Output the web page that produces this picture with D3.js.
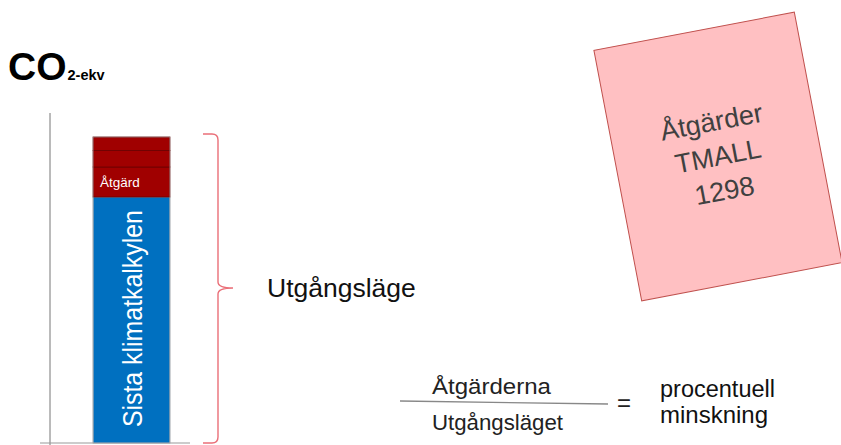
<!DOCTYPE html>
<html>
<head>
<meta charset="utf-8">
<script src="https://cdn.jsdelivr.net/npm/d3@7"></script>
<style>
  body { margin: 0; background: #fff; }
  svg { display: block; font-family: "Liberation Sans", Arial, sans-serif; }
</style>
</head>
<body>
<script>
// Data
const categories = ["Utgångsläge"];
const segmentNames = ["Sista klimatkalkylen", "Åtgärd", "", ""];
const segmentValues = [82, 10, 5.5, 4.5];
const segmentColors = ["#0070c0", "#a00000", "#a00000", "#a00000"];
const boxLines = ["Åtgärder", "TMALL", "1298"];

const w = 841;
const h = 445;

const svg = d3.select("body")
  .append("svg")
  .attr("width", w)
  .attr("height", h);

// Scales
const xScale = d3.scaleBand()
  .domain(categories)
  .range([50, 213])
  .paddingInner(0)
  .paddingOuter(0.56);

const yScale = d3.scaleLinear()
  .domain([0, 110])
  .range([443, 113]);

// stacked segments
let acc = 0;
const stacked = segmentValues.map((v, i) => {
  const d = { name: segmentNames[i], y0: acc, y1: acc + v, color: segmentColors[i] };
  acc += v;
  return d;
});
const total = acc;

// Axis lines
svg.append("line")
  .attr("x1", 50).attr("x2", 50)
  .attr("y1", yScale(110)).attr("y2", yScale(-0.8))
  .attr("stroke", "#777").attr("stroke-width", 1);

svg.append("line")
  .attr("x1", 40).attr("x2", 190)
  .attr("y1", yScale(0)).attr("y2", yScale(0))
  .attr("stroke", "#999").attr("stroke-width", 1.2);

// Bars
const bx = xScale(categories[0]);
const bw = xScale.bandwidth();

svg.selectAll("rect.seg")
  .data(stacked)
  .enter()
  .append("rect")
  .attr("class", "seg")
  .attr("x", bx)
  .attr("y", d => yScale(d.y1))
  .attr("width", bw)
  .attr("height", d => yScale(d.y0) - yScale(d.y1))
  .attr("fill", d => d.color)
  .attr("stroke", (d, i) => i === 0 ? "#9aa4ad" : "#6a0000")
  .attr("stroke-width", 0.8);

// outer thin gray edge
svg.append("rect")
  .attr("x", bx).attr("y", yScale(total))
  .attr("width", bw).attr("height", yScale(0) - yScale(total))
  .attr("fill", "none").attr("stroke", "#aaa").attr("stroke-width", 0.6);

// Segment labels
const base = stacked[0];
svg.append("text")
  .attr("transform", "translate(" + (bx + bw / 2 + 10) + "," + yScale(base.y0 + 5.3) + ") rotate(-90)")
  .attr("fill", "#fff")
  .attr("font-size", 27)
  .attr("textLength", 217)
  .attr("lengthAdjust", "spacingAndGlyphs")
  .text(base.name);

const atg = stacked[1];
svg.append("text")
  .attr("x", bx + 7)
  .attr("y", (yScale(atg.y0) + yScale(atg.y1)) / 2 + 5)
  .attr("fill", "#fff")
  .attr("font-size", 13.5)
  .text(atg.name);

// CO2-ekv title
const title = svg.append("text")
  .attr("x", 8).attr("y", 80)
  .attr("font-weight", "bold")
  .attr("fill", "#000");
title.append("tspan").attr("font-size", 39).text("CO");
title.append("tspan").attr("font-size", 14.5).attr("dx", 1).text("2-ekv");

// Curly brace
const yTop = yScale(total) - 3;
const yBot = yScale(0);
const yMid = 288;
const bxL = 203, bxV = 218, bxR = 233;
const r = 6;
const brace = d3.path();
brace.moveTo(bxL, yTop);
brace.lineTo(bxV - r, yTop);
brace.quadraticCurveTo(bxV, yTop, bxV, yTop + r);
brace.lineTo(bxV, yMid - 6);
brace.quadraticCurveTo(bxV, yMid, bxR, yMid);
brace.quadraticCurveTo(bxV, yMid, bxV, yMid + 6);
brace.lineTo(bxV, yBot - r);
brace.quadraticCurveTo(bxV, yBot, bxV - r, yBot);
brace.lineTo(bxL, yBot);
svg.append("path")
  .attr("d", brace.toString())
  .attr("fill", "none")
  .attr("stroke", "#ea6f78")
  .attr("stroke-width", 1.4);

svg.append("text")
  .attr("x", 267).attr("y", 297)
  .attr("font-size", 26.5)
  .attr("fill", "#111")
  .text(categories[0]);

// Fraction
svg.append("text")
  .attr("x", 432).attr("y", 394)
  .attr("font-size", 22)
  .attr("textLength", 119)
  .attr("lengthAdjust", "spacingAndGlyphs")
  .attr("fill", "#222")
  .text("Åtgärderna");

svg.append("line")
  .attr("x1", 400).attr("y1", 401)
  .attr("x2", 608).attr("y2", 404)
  .attr("stroke", "#888").attr("stroke-width", 1.3);

svg.append("text")
  .attr("x", 432).attr("y", 430)
  .attr("font-size", 22)
  .attr("textLength", 131)
  .attr("lengthAdjust", "spacingAndGlyphs")
  .attr("fill", "#222")
  .text("Utgångsläget");

svg.append("text")
  .attr("x", 617).attr("y", 411)
  .attr("font-size", 24)
  .attr("fill", "#222")
  .text("=");

svg.append("text")
  .attr("x", 660).attr("y", 397)
  .attr("font-size", 23.5)
  .attr("fill", "#111")
  .text("procentuell");

svg.append("text")
  .attr("x", 660).attr("y", 423)
  .attr("font-size", 24)
  .attr("fill", "#111")
  .text("minskning");

// Rotated note box
const note = svg.append("g")
  .attr("transform", "translate(718,156.5) rotate(-10.8)");

note.append("rect")
  .attr("x", -102).attr("y", -127.5)
  .attr("width", 204).attr("height", 255)
  .attr("fill", "#ffc0c2")
  .attr("stroke", "#c0504d")
  .attr("stroke-width", 1);

note.selectAll("text")
  .data(boxLines)
  .enter()
  .append("text")
  .attr("x", 0)
  .attr("y", (d, i) => (i - 1) * 35 + 9)
  .attr("text-anchor", "middle")
  .attr("font-size", 27)
  .attr("fill", "#404040")
  .text(d => d);
</script>
</body>
</html>
